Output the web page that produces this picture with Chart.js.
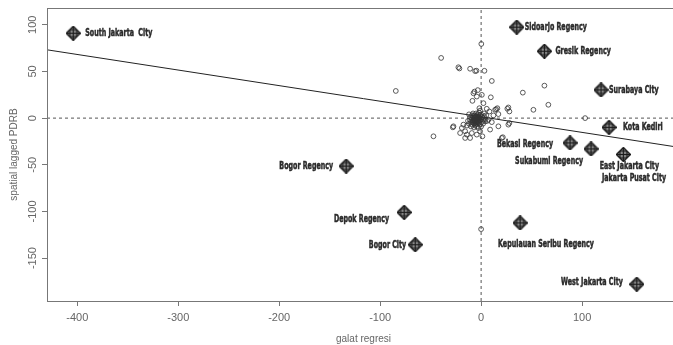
<!DOCTYPE html>
<html>
<head>
<meta charset="utf-8">
<script src="https://cdn.jsdelivr.net/npm/chart.js@4.4.1/dist/chart.umd.min.js"></script>
<style>
  html, body { margin: 0; padding: 0; background: #fff; overflow: hidden; }
  #wrap { width: 690px; height: 345px; }
</style>
</head>
<body>
<div id="wrap"><canvas id="moranPlot" width="690" height="345"></canvas></div>
<script>
// Moran scatterplot: galat regresi vs spatial lagged PDRB

// small circles (all regions)
const galat = [
    -2, -3, -4, -5, -6, -7, -8, -1, 0, -3, -5, -6, -2, -4, -8, -9, -10, -7, -3, -1,
    1, 2, 1, -1, -6, -9, -11, -12, -5, -8, -2, 0, 3, 4, 2, -4, -7, -10, -13, -11,
    -6, -3, -4, -2, -5, -7, -9, 0, -1, 3, 5, 6, -14, -12,
    -4.5, -5.5, -6.5, -3.5, -2.5, -7.5, -4.5, -5.5, -6.5, -3.5, -8.5, -1.5, -5, -6, -4, -7,
    -7.6, -4.3, 0.7, 9.6, 2.3, -8.6, -1.7, 5.6, 8.2, 13.9, 16.1, 27, 28, 17.1, 12.2,
    -27.4, -17.5, -19.1, -20.8, -15.8, -14.2, -9.2, -4.3, 1.3, 8.9, 17.1, 27, 20.5, -10.9,
    4, 7.2, 10.6, -2.6, -1,
    -39.6, -21.5, -22.5, -10.9, -5.9, -4.6, 3.3, 10.6, -6.6, -3.3, 41.3, 62.7, 66.6, 51.8,
    26, 14.9, 28, 21.5, -47.2, -84.5, 103, 0, 0.2, -28, -15.8
];
const lagged = [
    0, 1, -1, 2, 0, -2, 1, -2, -1, -3, -4, -5, -5, -6, -3, -1, -4, 3, 4, 3,
    1, -2, -4, -7, -8, -7, -2, -6, 5, 5, 6, 4, 2, -1, -6, -9, -10, -9, -3, 1,
    -3, -1, 2, -3, -2, -6, 3, -9, 8, 5, 3, -3, -8, 4,
    -1.5, 0.5, -2.5, -4.5, 1.5, -0.5, -3.5, -6.5, 2.5, -1.5, -4.5, 0.5, -5, 1, 0, -3,
    26.6, 23.1, 24.9, 22.3, 16, 18.5, 10.6, 10, 7.1, 8.9, 10.6, 11.4, 7.1, 4.3, 2.9,
    -8.8, -7, -10.6, -16, -14.1, -17.7, -16, -17.7, -19.5, -12.3, -8.8, -7, -21.3, -21.3,
    -3.5, -1.7, -4.3, -10.6, -14.1,
    64.5, 53.2, 54.5, 52.9, 50.4, 50.8, 50.7, 39.8, 28.4, 30, 27.3, 34.8, 14.3, 8.9,
    10, 9.6, -5.3, -20.5, -19.5, 29.1, 0, -119, 79.5, -9.9, -21.3
];

// influential regions (labelled)
const infNames = [
    'South Jakarta  City', 'Sidoarjo Regency', 'Gresik Regency', 'Surabaya City',
    'Kota Kediri', 'Bekasi Regency', 'Sukabumi Regency', 'East Jakarta City',
    'Jakarta Pusat City', 'Bogor Regency', 'Depok Regency', 'Bogor City',
    'Kepulauan Seribu Regency', 'West Jakarta City'
];
const infGalat = [-404, 35.3, 62.7, 118.8, 126.7, 88.1, 108.9, 140.9, 205, -133.7, -76.2, -65.3, 38.6, 154.2];
const infLagged = [91, 97.5, 71.7, 30.2, -9.9, -26.6, -33, -39, -57, -51.4, -101, -135.7, -112.3, -178];

// fitted line end points
const fitGalat = [-430, 197];
const fitLagged = [73.2, -31.5];

// tick labels
const xTicks = [-400, -300, -200, -100, 0, 100];
const yTicks = [-150, -100, -50, 0, 50, 100];

// label placement relative to the marker (px)
const labelPos = [
    [12, 0, 'left'], [8, 0, 'left'], [11, 0, 'left'], [8, 0, 'left'],
    [14, 0, 'left'], [-17, 1, 'right'], [-8, 12, 'right'], [6, 12, 'center'],
    [-22, 7, 'right'], [-13, 0, 'right'], [-15, 7, 'right'], [-9, 0, 'right'],
    [-22, 21, 'left'], [-14, -2, 'right']
];

// diamond-plus marker
const marker = document.createElement('canvas');
marker.width = 15; marker.height = 15;
(function () {
    const c = marker.getContext('2d');
    c.translate(7.5, 7.5);
    c.beginPath();
    c.moveTo(0, -7); c.lineTo(7, 0); c.lineTo(0, 7); c.lineTo(-7, 0); c.closePath();
    c.fillStyle = '#8a8a8a';
    c.fill();
    c.save();
    c.clip();
    c.strokeStyle = '#1a1a1a';
    c.lineWidth = 1.2;
    c.beginPath();
    c.moveTo(0, -7); c.lineTo(0, 7); c.moveTo(-7, 0); c.lineTo(7, 0);
    c.moveTo(-3.5, -7); c.lineTo(-3.5, 7); c.moveTo(3.5, -7); c.lineTo(3.5, 7);
    c.moveTo(-7, -3.5); c.lineTo(7, -3.5); c.moveTo(-7, 3.5); c.lineTo(7, 3.5);
    c.stroke();
    c.restore();
    c.beginPath();
    c.moveTo(0, -7); c.lineTo(7, 0); c.lineTo(0, 7); c.lineTo(-7, 0); c.closePath();
    c.lineWidth = 1.4;
    c.strokeStyle = '#1a1a1a';
    c.stroke();
})();

const zip = (xs, ys) => xs.map((x, i) => ({ x: x, y: ys[i] }));

const boxAndLabels = {
    id: 'boxAndLabels',
    afterDatasetsDraw(chart) {
        const ctx = chart.ctx;
        const a = chart.chartArea;
        ctx.save();
        ctx.strokeStyle = '#777';
        ctx.lineWidth = 1;
        ctx.strokeRect(a.left + 0.5, a.top + 0.5, a.right - a.left, a.bottom - a.top);

        // y tick labels, rotated like R
        const ys = chart.scales.y;
        ctx.fillStyle = '#666';
        ctx.font = '11px "Liberation Sans", Arial, sans-serif';
        ctx.textAlign = 'center';
        ctx.textBaseline = 'middle';
        yTicks.forEach(v => {
            ctx.save();
            ctx.translate(33, ys.getPixelForValue(v));
            ctx.rotate(-Math.PI / 2);
            ctx.fillText(String(v), 0, 0);
            ctx.restore();
        });

        // region labels, condensed bold
        const meta = chart.getDatasetMeta(1);
        ctx.fillStyle = '#2a2a2a';
        ctx.strokeStyle = '#2a2a2a';
        ctx.lineWidth = 0.5;
        ctx.font = 'bold 11px "DejaVu Sans Condensed", "Liberation Sans", sans-serif';
        ctx.textBaseline = 'middle';
        meta.data.forEach((pt, i) => {
            const p = labelPos[i];
            ctx.save();
            ctx.translate(pt.x + p[0], pt.y + p[1]);
            ctx.scale(0.64, 1);
            ctx.textAlign = p[2];
            ctx.fillText(infNames[i], 0, 0);
            ctx.strokeText(infNames[i], 0, 0);
            ctx.restore();
        });
        ctx.restore();
    }
};

new Chart(document.getElementById('moranPlot'), {
    type: 'scatter',
    data: {
        datasets: [{
            label: 'regions',
            data: zip(galat, lagged),
            pointStyle: 'circle',
            pointRadius: 2.4,
            borderWidth: 0.8,
            borderColor: '#333',
            backgroundColor: 'rgba(0,0,0,0)',
        }, {
            label: 'influential',
            data: zip(infGalat, infLagged),
            pointStyle: marker,
            pointRadius: 7,
        }, {
            label: 'fit',
            data: zip(fitGalat, fitLagged),
            showLine: true,
            pointRadius: 0,
            borderColor: '#222',
            borderWidth: 1,
        }, {
            label: 'h0',
            data: [{ x: -430, y: 0 }, { x: 197, y: 0 }],
            showLine: true,
            pointRadius: 0,
            borderColor: '#555',
            borderWidth: 1,
            borderDash: [3, 3],
        }, {
            label: 'v0',
            data: [{ x: 0, y: -196 }, { x: 0, y: 118 }],
            showLine: true,
            pointRadius: 0,
            borderColor: '#555',
            borderWidth: 1,
            borderDash: [3, 3],
        }],
    },
    options: {
        responsive: false,
        animation: false,
        layout: { padding: { top: 6, right: 10, left: 0, bottom: 0 } },
        plugins: {
            legend: { display: false },
            tooltip: { enabled: false },
        },
        scales: {
            x: {
                type: 'linear',
                min: -430,
                max: 197,
                afterBuildTicks: s => { s.ticks = xTicks.map(v => ({ value: v })); },
                afterFit: s => { s.height = 44; },
                grid: { drawOnChartArea: false, drawTicks: true, tickLength: 5, color: '#777' },
                border: { display: true, color: '#777', width: 1 },
                ticks: {
                    color: '#666',
                    padding: 5,
                    maxRotation: 0,
                    font: { family: '"Liberation Sans", Arial, sans-serif', size: 11 },
                },
                title: {
                    display: true,
                    text: 'galat regresi',
                    color: '#666',
                    padding: { top: 0, bottom: 0 },
                    font: { family: '"Liberation Sans", Arial, sans-serif', size: 10, lineHeight: 1.2 },
                },
            },
            y: {
                type: 'linear',
                min: -196,
                max: 118,
                afterBuildTicks: s => { s.ticks = yTicks.map(v => ({ value: v })); },
                afterFit: s => { s.width = 47; },
                grid: { drawOnChartArea: false, drawTicks: true, tickLength: 5, color: '#777' },
                border: { display: true, color: '#777', width: 1 },
                ticks: { display: false },
                title: {
                    display: true,
                    text: 'spatial lagged PDRB',
                    color: '#666',
                    padding: { top: 8, bottom: 0 },
                    font: { family: '"Liberation Sans", Arial, sans-serif', size: 10, lineHeight: 1.2 },
                },
            },
        },
    },
    plugins: [boxAndLabels],
});
</script>
</body>
</html>
